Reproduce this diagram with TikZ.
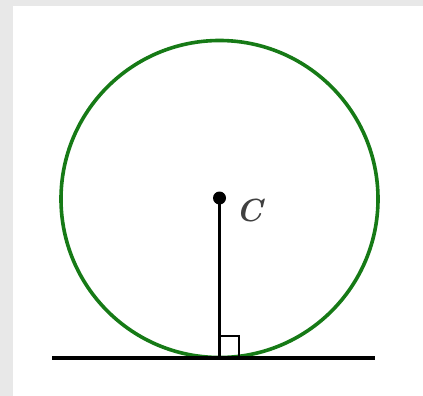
\documentclass[tikz,border=0pt]{standalone}
\usepackage{tikz}

\definecolor{circgreen}{RGB}{22,122,22}
\definecolor{pagegray}{RGB}{232,232,232}

\begin{document}
\begin{tikzpicture}[x=1pt,y=-1pt]
\useasboundingbox (0,0) rectangle (423,396);
\fill[pagegray] (0,0) rectangle (423,396);
\fill[white] (13,6) rectangle (423,396);
\coordinate (C) at (219.5,198);
\coordinate (T) at (219.5,358);
\coordinate (L) at (52,358);
\coordinate (R) at (375,358);
\draw[circgreen, line width=3.6pt] (219.5,199) circle (158.5);
\draw[black, line width=3.6pt] (L) -- (R);
\draw[black, line width=3.6pt] (C) -- (T);
\draw[black, line width=2.8pt] (219.5,336) -- (239,336) -- (239,358);
\fill[black] (C) circle (6.5);
\node[text=black!75, font=\fontsize{32}{32}\selectfont\bfseries\itshape] (lab) at (249,211) {C};
\end{tikzpicture}
\end{document}
